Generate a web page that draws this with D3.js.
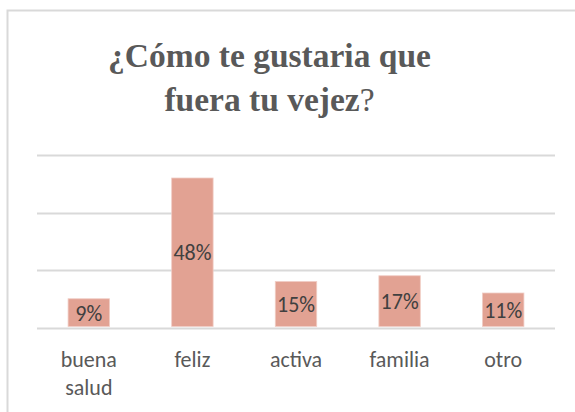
<!DOCTYPE html>
<html>
<head>
    <meta charset="utf-8">
    <title>¿Cómo te gustaria que fuera tu vejez?</title>
    <script src="https://d3js.org/d3.v7.min.js"></script>
    <style>
        body {
            margin: 0;
            background-color: #ffffff;
        }
    </style>
</head>
<body>
    <script>
        // data (bar heights as counts, labels as shown)
        var categories = ["buena salud", "feliz", "activa", "familia", "otro"];
        var counts = [2.5, 13, 4, 4.5, 3];
        var pctLabels = ["9%", "48%", "15%", "17%", "11%"];
        var yTicks = [0, 5, 10, 15];

        var width = 575, height = 412;
        var barColor = "#e2a293";
        var textColor = "#404040";

        var svg = d3.select("body")
            .append("svg")
            .attr("width", width)
            .attr("height", height);

        // chart frame (only top and left edges visible)
        svg.append("path")
            .attr("d", "M7.5,412 L7.5,10.5 L575,10.5")
            .attr("fill", "none")
            .attr("stroke", "#d9d9d9")
            .attr("stroke-width", 2);

        // title
        var title = svg.append("text")
            .attr("x", 269.5)
            .attr("y", 67)
            .attr("text-anchor", "middle")
            .style("font-family", "'Liberation Serif', 'Times New Roman', serif")
            .style("font-size", "33.5px")
            .style("font-weight", "bold")
            .style("fill", "#595959");
        title.append("tspan").text("¿Cómo te gustaria que");
        var l2 = title.append("tspan").attr("x", 269.5).attr("dy", 44);
        l2.append("tspan").text("fuera tu vejez");
        l2.append("tspan").style("font-weight", "normal").text("?");

        var x = d3.scaleBand()
            .domain(categories)
            .range([37, 555])
            .paddingInner(0.6)
            .paddingOuter(0.3);

        var y = d3.scaleLinear()
            .domain([0, 15])
            .range([327.5, 155]);

        // gridlines
        svg.selectAll("line.grid")
            .data(yTicks)
            .enter()
            .append("line")
            .attr("class", "grid")
            .attr("x1", 37)
            .attr("x2", 555)
            .attr("y1", function (d) { return Math.round(y(d)) + 0.5; })
            .attr("y2", function (d) { return Math.round(y(d)) + 0.5; })
            .attr("stroke", "#d9d9d9")
            .attr("stroke-width", 2);

        // bars
        svg.selectAll("rect.bar")
            .data(counts)
            .enter()
            .append("rect")
            .attr("class", "bar")
            .attr("x", function (d, i) { return x(categories[i]); })
            .attr("y", function (d) { return y(d); })
            .attr("width", x.bandwidth())
            .attr("height", function (d) { return y(0) - y(d) - 1; })
            .attr("fill", barColor)
            .attr("stroke", "#f0cdc5")
            .attr("stroke-width", 0.8);

        // data labels
        svg.selectAll("text.lbl")
            .data(counts)
            .enter()
            .append("text")
            .attr("class", "lbl")
            .attr("x", function (d, i) { return x(categories[i]) + x.bandwidth() / 2; })
            .attr("y", function (d) { return (y(d) + y(0)) / 2 + 7.5; })
            .attr("text-anchor", "middle")
            .style("font-family", "Carlito, Lato, sans-serif")
            .style("font-size", "22px")
            .style("fill", textColor)
            .text(function (d, i) { return pctLabels[i]; });

        // category labels
        var cat = svg.selectAll("text.cat")
            .data(categories)
            .enter()
            .append("text")
            .attr("class", "cat")
            .attr("x", function (d) { return x(d) + x.bandwidth() / 2; })
            .attr("y", 367)
            .attr("text-anchor", "middle")
            .style("font-family", "Carlito, Lato, sans-serif")
            .style("font-size", "22px")
            .style("fill", "#595959");

        cat.each(function (d) {
            var words = d.split(" ");
            var t = d3.select(this);
            words.forEach(function (w, i) {
                t.append("tspan")
                    .attr("x", x(d) + x.bandwidth() / 2)
                    .attr("dy", i === 0 ? 0 : 28)
                    .text(w);
            });
        });
    </script>
</body>
</html>
